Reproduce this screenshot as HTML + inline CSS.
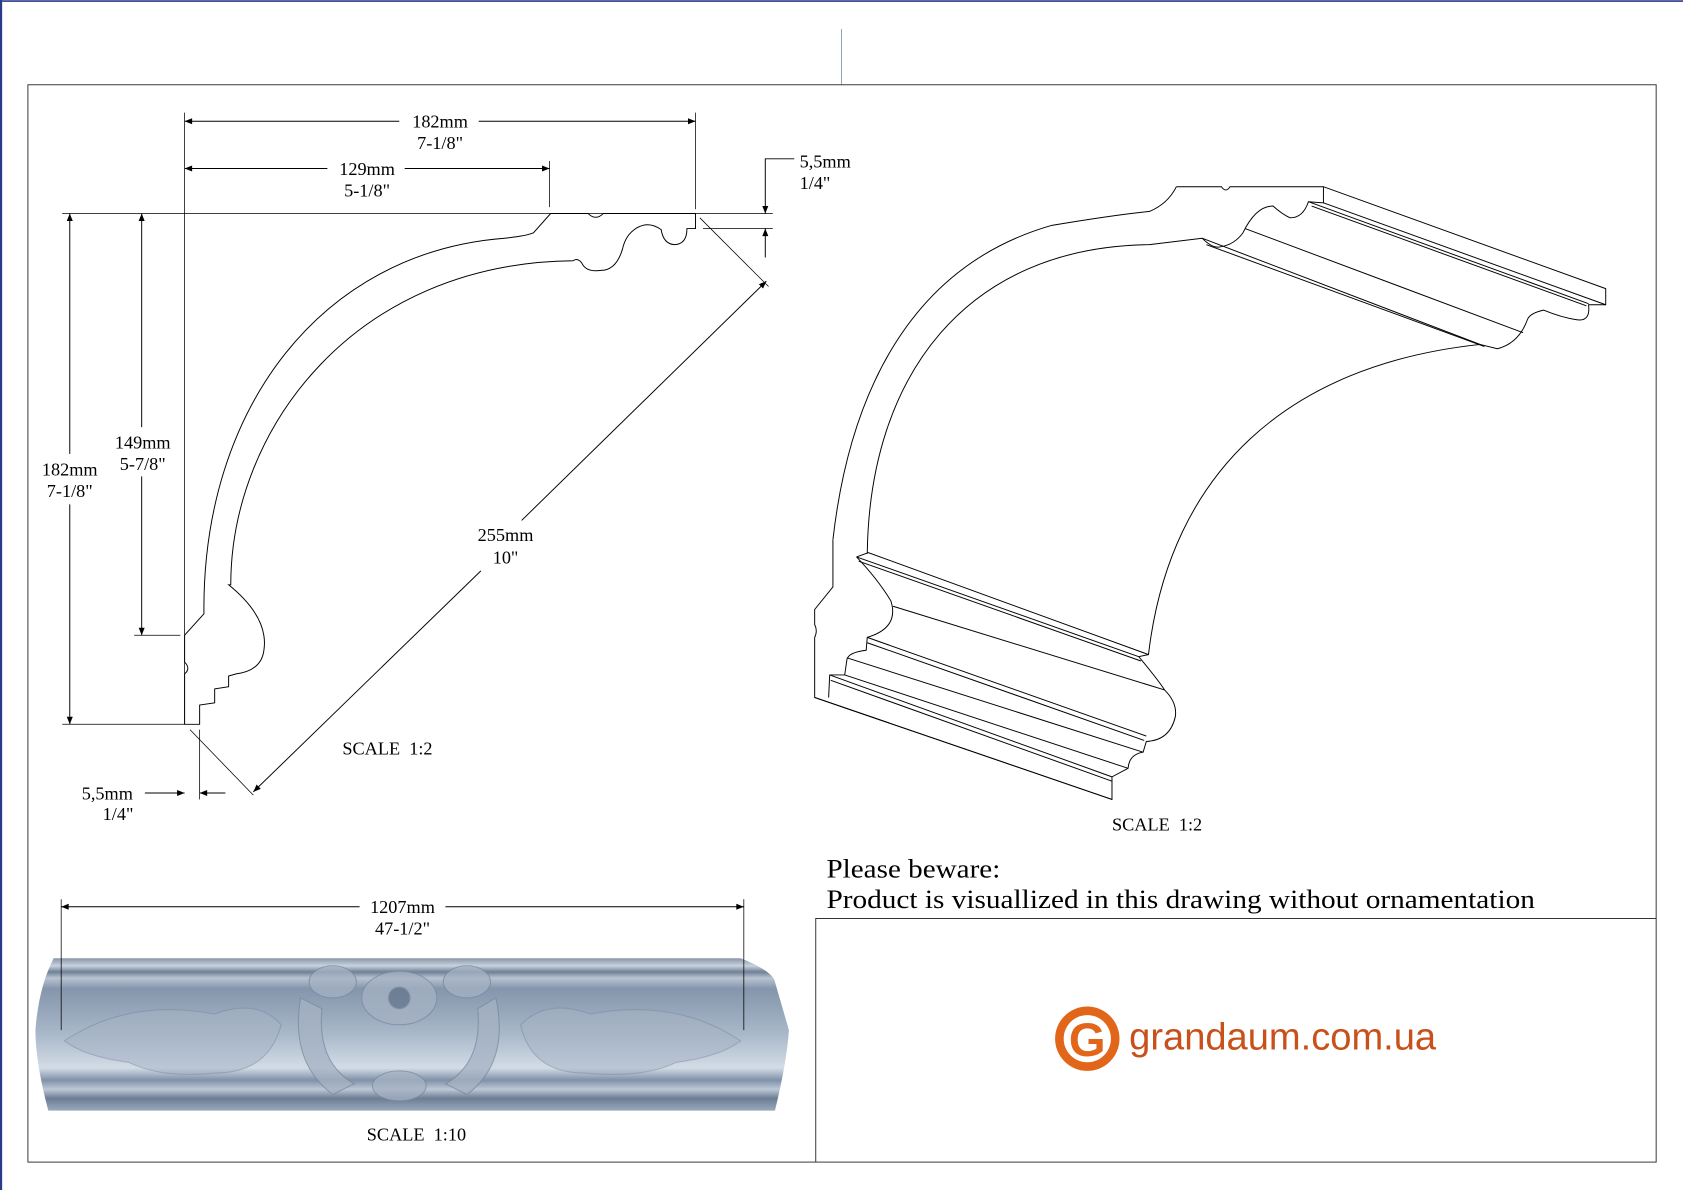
<!DOCTYPE html>
<html><head><meta charset="utf-8"><style>
html,body{margin:0;padding:0;background:#fff;}
svg{display:block;}
text{font-family:"Liberation Serif",serif;}
</style></head><body>
<svg width="1683" height="1190" viewBox="0 0 1568 1109" preserveAspectRatio="none" xmlns="http://www.w3.org/2000/svg">
<defs>
<marker id="ar" viewBox="0 0 10 10" refX="10" refY="5" markerWidth="14" markerHeight="7" markerUnits="userSpaceOnUse" orient="auto-start-reverse"><path d="M0,1 L10,5 L0,9 z" fill="#000"/></marker>
<linearGradient id="bg" x1="0" y1="0" x2="0" y2="1">
<stop offset="0" stop-color="#8796a9"/><stop offset="0.05" stop-color="#c9d3de"/><stop offset="0.09" stop-color="#6f8097"/>
<stop offset="0.13" stop-color="#b8c4d2"/><stop offset="0.2" stop-color="#8595ab"/><stop offset="0.5" stop-color="#a9b8ca"/>
<stop offset="0.72" stop-color="#d3dce6"/><stop offset="0.8" stop-color="#8091a8"/><stop offset="0.86" stop-color="#bcc8d5"/>
<stop offset="0.92" stop-color="#6c7d93"/><stop offset="1" stop-color="#9aaabd"/></linearGradient>
</defs>
<g fill="none" stroke="#000" stroke-width="0.9">
<line x1="1" y1="0" x2="1" y2="1109" stroke="#2b3a8a" stroke-width="2"/>
<line x1="0" y1="1" x2="1568" y2="1" stroke="#2b3a8a" stroke-width="1.5"/>
<line x1="784" y1="27" x2="784" y2="79" stroke="#7fa8c0"/>
<rect x="26" y="79" width="1517" height="1004" stroke="#333"/>
<polyline points="760,1083 760,856 1543,856" stroke="#333"/>

<line x1="58" y1="199" x2="720" y2="199" stroke-width="0.7"/>
<line x1="172" y1="105" x2="172" y2="675" stroke-width="0.7"/>
<line x1="58" y1="675" x2="172" y2="675" stroke-width="0.7"/>
<line x1="648" y1="105" x2="648" y2="195" stroke-width="0.7"/>
<line x1="512" y1="150" x2="512" y2="193" stroke-width="0.7"/>
<line x1="125" y1="592" x2="168" y2="592" stroke-width="0.7"/>
<line x1="655" y1="213" x2="720" y2="213" stroke-width="0.7"/>
<line x1="652" y1="203" x2="716" y2="267" stroke-width="0.7"/>
<line x1="177" y1="680" x2="236" y2="741" stroke-width="0.7"/>
<line x1="186" y1="680" x2="186" y2="745" stroke-width="0.7"/>
<line x1="172" y1="113" x2="372" y2="113" marker-start="url(#ar)"/>
<line x1="446" y1="113" x2="648" y2="113" marker-end="url(#ar)"/>
<line x1="172" y1="157" x2="305" y2="157" marker-start="url(#ar)"/>
<line x1="377" y1="157" x2="512" y2="157" marker-end="url(#ar)"/>
<line x1="65" y1="199" x2="65" y2="423" marker-start="url(#ar)"/>
<line x1="65" y1="470" x2="65" y2="675" marker-end="url(#ar)"/>
<line x1="132" y1="199" x2="132" y2="398" marker-start="url(#ar)"/>
<line x1="132" y1="444" x2="132" y2="592" marker-end="url(#ar)"/>
<line x1="486" y1="485" x2="714" y2="262" marker-end="url(#ar)"/>
<line x1="448" y1="532" x2="236" y2="738" marker-end="url(#ar)"/>
<polyline points="740,148 713,148 713,199" marker-end="url(#ar)"/>
<line x1="713" y1="240" x2="713" y2="213" marker-end="url(#ar)"/>
<line x1="135" y1="739" x2="172" y2="739" marker-end="url(#ar)"/>
<line x1="210" y1="739" x2="186" y2="739" marker-end="url(#ar)"/>
<path d="M513,199 L548,199 Q555,206 562,199 L648,199 L648,213 L640,213 Q640,228 628,228 Q618,227 616,214 Q605,206 594,212 Q583,218 580,232 Q574,252 560,252 Q546,254 542,245 Q538,240 534,243 C330,245 215,400 215,545 L213,545 Q250,575 246,605 Q244,625 220,628 L213,630 L213,640 L200,642 L200,655 L186,657 L186,675 L172,675 L172,628 Q178,623 172,617 L172,592 L190,572 C188,380 300,235 470,222 Q490,220 497,217 Z"/>

<path d="M1096,174 L1138,174 Q1142,180 1146,174 L1233,174 L1496,269 L1496,284 L1480,284 Q1482,300 1469,298 Q1455,296 1438,289 Q1425,292 1423,298 Q1415,320 1395,325 L1379,321 C1200,340 1090,440 1070,610 L1061,612 Q1080,635 1085,643 Q1097,655 1095,668 Q1090,690 1068,691 L1065,701 Q1052,703 1051,716 L1036,724 L1036,745 L759,650 L759,594 Q762,588 759,582 L759,568 L776,547 L776,503"/>
<path d="M776,503 C790,380 840,250 980,210 Q1040,200 1071,197 Q1088,190 1096,174"/>
<path d="M808,516 C810,350 900,230 1071,228 L1120,222 Q1130,232 1137,230 Q1150,228 1158,217 Q1170,192 1186,192 Q1195,200 1202,203 Q1214,203 1219,188 L1233,189 L1233,174"/>
<line x1="1233" y1="189" x2="1496" y2="284"/>
<line x1="1219" y1="188" x2="1480" y2="283"/>
<line x1="1222" y1="192" x2="1478" y2="285"/>
<line x1="1160" y1="213" x2="1419" y2="310"/>
<line x1="1120" y1="222" x2="1379" y2="321"/>
<line x1="1124" y1="228" x2="1383" y2="323"/>
<path d="M798,519 L809,515 L1070,610"/>
<line x1="798" y1="519" x2="1061" y2="612"/>
<line x1="800" y1="523" x2="1063" y2="616"/>
<path d="M798,519 Q818,540 830,560 Q838,585 808,594 L807,606 Q790,608 789,615 L787,629 L773,629 L772,650"/>
<line x1="832" y1="565" x2="1085" y2="643"/>
<line x1="808" y1="594" x2="1068" y2="686"/>
<line x1="808" y1="599" x2="1066" y2="690"/>
<line x1="789" y1="613" x2="1065" y2="701"/>
<line x1="787" y1="629" x2="1051" y2="716"/>
<line x1="773" y1="629" x2="1036" y2="724"/>
<line x1="774" y1="634" x2="1036" y2="728"/>
<line x1="759" y1="650" x2="1036" y2="745"/>
</g>

<path d="M50,893 L690,893 Q720,905 722,915 L735,960 Q733,990 722,1035 L45,1035 Q33,990 33,960 Q36,920 50,893 Z" fill="url(#bg)"/>
<g fill="#a5b2c4" stroke="#7a8aa0" stroke-width="1" opacity="0.75">
<ellipse cx="372" cy="930" rx="35" ry="25"/><circle cx="372" cy="930" r="10" fill="#66768c"/>
<ellipse cx="372" cy="1012" rx="25" ry="14"/>
<path d="M280,930 Q270,990 310,1020 L330,1010 Q295,990 300,940 Z"/>
<path d="M462,930 Q475,990 435,1020 L415,1010 Q450,990 445,940 Z"/>
<ellipse cx="310" cy="915" rx="22" ry="15"/><ellipse cx="435" cy="915" rx="22" ry="15"/>
<path d="M60,970 Q120,930 200,945 Q240,930 262,955 Q250,1000 200,1000 Q150,1005 120,990 Q80,985 60,970 Z" opacity="0.7"/>
<path d="M690,970 Q630,930 550,945 Q510,930 485,955 Q495,1000 545,1000 Q600,1005 630,990 Q670,985 690,970 Z" opacity="0.7"/>
</g>
<g fill="none" stroke="#000" stroke-width="0.9">
<line x1="57" y1="838" x2="57" y2="960" stroke-width="0.7"/>
<line x1="693" y1="838" x2="693" y2="960" stroke-width="0.7"/>
<line x1="57" y1="845" x2="335" y2="845" marker-start="url(#ar)"/>
<line x1="415" y1="845" x2="693" y2="845" marker-end="url(#ar)"/>
</g>

<g font-size="17" text-anchor="middle" fill="#000">
<text x="410" y="119">182mm</text><text x="410" y="139">7-1/8"</text>
<text x="342" y="163">129mm</text><text x="342" y="183">5-1/8"</text>
<text x="65" y="443">182mm</text><text x="65" y="463">7-1/8"</text>
<text x="133" y="418">149mm</text><text x="133" y="438">5-7/8"</text>
<text x="471" y="504">255mm</text><text x="471" y="525">10"</text>
<text x="100" y="745">5,5mm</text><text x="110" y="764">1/4"</text>
<text x="361" y="703" xml:space="preserve">SCALE  1:2</text>
<text x="1078" y="774" xml:space="preserve">SCALE  1:2</text>
<text x="388" y="1063" xml:space="preserve">SCALE  1:10</text>
<text x="375" y="851">1207mm</text><text x="375" y="871">47-1/2"</text>
</g>
<g font-size="17" fill="#000"><text x="745" y="156">5,5mm</text><text x="745" y="176">1/4"</text></g>
<g font-size="25" fill="#000"><text x="770" y="818" textLength="162" lengthAdjust="spacingAndGlyphs">Please beware:</text><text x="770" y="846" textLength="660" lengthAdjust="spacingAndGlyphs">Product is visuallized in this drawing without ornamentation</text></g>

<circle cx="1013" cy="968" r="30" fill="#e2661a"/>
<circle cx="1013" cy="968" r="22" fill="#fff"/>
<text x="1013" y="984" style="font-family:'Liberation Sans',sans-serif;fill:#e2661a;font-weight:bold" font-size="44" text-anchor="middle">G</text>
<text x="1052" y="978" style="font-family:'Liberation Sans',sans-serif;fill:#c8501a" font-size="35" textLength="286" lengthAdjust="spacingAndGlyphs">grandaum.com.ua</text>
</svg>
</body></html>
